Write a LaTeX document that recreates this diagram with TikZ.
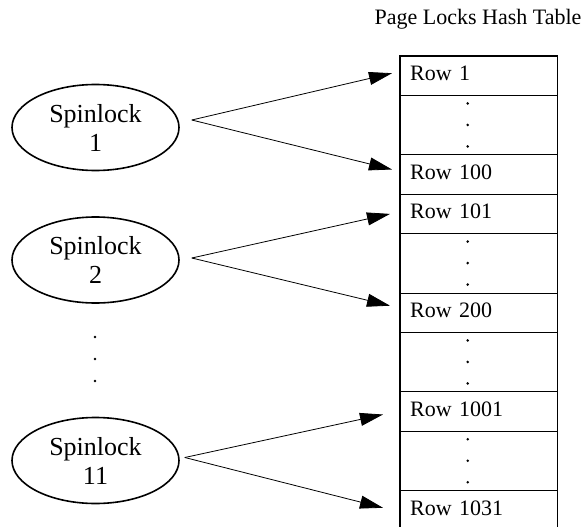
\documentclass[tikz,border=0pt]{standalone}
\usepackage{fontspec}
\setmainfont{Liberation Serif}
\usetikzlibrary{arrows.meta,shapes.geometric,calc}

\begin{document}
\begin{tikzpicture}[x=1pt,y=-1pt,
  lock/.style={ellipse, draw, line width=1.6pt, minimum width=167pt,
    minimum height=86pt, inner sep=0pt, align=center,
    font=\fontsize{26}{29}\selectfont},
  rowcell/.style={anchor=north west, minimum height=39pt, text width=137pt,
    inner xsep=10pt, inner ysep=0pt, align=left, text height=15pt,
    text depth=5pt, font=\fontsize{22}{26}\selectfont},
  dotcell/.style={anchor=north west, minimum width=157pt,
    minimum height=59pt, inner sep=0pt},
  link/.style={-{Triangle[length=23pt,width=13pt]}, line width=0.8pt},
  sep/.style={line width=0.8pt},
  frame/.style={line width=1.8pt},
  dot/.style={circle, fill, inner sep=0pt, minimum size=2.8pt}
]
\useasboundingbox (0,0) rectangle (584,527);

% title
\node[font=\fontsize{22}{26}\selectfont, anchor=base] (title) at (478,25)
  {Page Locks Hash Table};

% hash table cells, stacked top to bottom
\node[rowcell] (r1) at (400,56) {Row 1};
\node[dotcell] (d1) at (r1.south west) {};
\node[rowcell] (r100) at (d1.south west) {Row 100};
\node[rowcell] (r101) at (r100.south west) {Row 101};
\node[dotcell] (d2) at (r101.south west) {};
\node[rowcell] (r200) at (d2.south west) {Row 200};
\node[dotcell] (d3) at (r200.south west) {};
\node[rowcell] (r1001) at (d3.south west) {Row 1001};
\node[dotcell] (d4) at (r1001.south west) {};
\node[rowcell] (r1031) at (d4.south west) {Row 1031};

% separators between cells
\foreach \c in {r1,d1,r100,r101,d2,r200,d3,r1001,d4}
  \draw[sep] (\c.south west) -- (\c.south east);

% vertical ellipsis inside the gap cells
\foreach \c in {d1,d2,d3,d4}
  \foreach \k in {8,29.5,51}
    \node[dot] at ($(\c.north)+(-11,\k)$) {};

% outer frame, open at the bottom
\coordinate (bot) at (0,528);
\draw[frame] (r1.north west |- bot) -- (r1.north west) -- (r1.north east)
  -- (r1.north east |- bot);

% spinlocks
\node[lock] (s1) at (95.5,127.5) {Spinlock\\1};
\node[lock] (s2) at (95.5,260) {Spinlock\\2};
\node[lock] (s11) at (95.5,460.5) {Spinlock\\11};

\node[dot] (v1) at (95,337) {};
\node[dot] (v2) at (95,359) {};
\node[dot] (v3) at (95,381) {};

% fan-out points
\coordinate (o1) at ($(s1.east)+(12,-7.5)$);
\coordinate (o2) at ($(s2.east)+(12,-2)$);
\coordinate (o11) at ($(s11.east)+(5,-3)$);

% connectors
\draw[link] (o1) -- ($(r1.west)+(-8,-2.5)$);
\draw[link] (o1) -- ($(r100.west)+(-8,-5)$);
\draw[link] (o2) -- ($(r101.west)+(-10,0)$);
\draw[link] (o2) -- ($(r200.west)+(-10,-7)$);
\draw[link] (o11) -- ($(r1001.west)+(-17,3)$);
\draw[link] (o11) -- ($(r1031.west)+(-17,-2.5)$);
\end{tikzpicture}
\end{document}
